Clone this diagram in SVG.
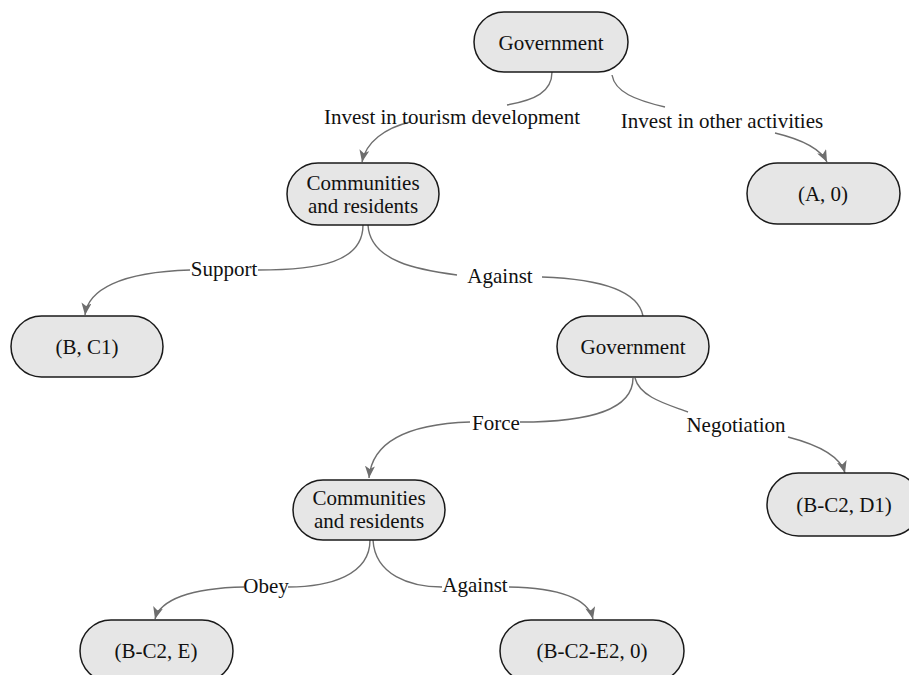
<svg xmlns="http://www.w3.org/2000/svg" width="909" height="675" viewBox="0 0 909 675">
<defs>
<style>
.node rect{fill:#e6e6e6;stroke:#1a1a1a;stroke-width:1.5}
text{font-family:'Liberation Serif','Times New Roman','DejaVu Serif',serif;font-size:21px;fill:#111;text-anchor:middle}
.conn path{fill:none;stroke:#6e6e6e;stroke-width:1.4}
</style>
<marker id="arr" viewBox="0 0 12 10" refX="12" refY="5" markerWidth="12" markerHeight="10" markerUnits="userSpaceOnUse" orient="auto">
<path d="M0,0 L12,5 L0,10 L3,5 z" fill="#6e6e6e"/>
</marker>
</defs>
<rect width="909" height="675" fill="#ffffff"/>
<g id="connectors" class="conn">
<path d="M552,72 C552,92 535,100 507,105"/>
<path d="M410,122 C385,128 366,142 362,162" marker-end="url(#arr)"/>
<path d="M612,75 C615,92 635,100 665,107"/>
<path d="M775,133 C800,139 820,148 827,162" marker-end="url(#arr)"/>
<path d="M363,225 C363,262 320,270 258,270"/>
<path d="M190,270 C120,272 88,290 85,315" marker-end="url(#arr)"/>
<path d="M368,225 C370,262 420,270 457,275"/>
<path d="M542,277 C600,279 638,290 643,316"/>
<path d="M633,378 C633,410 590,422 520,422"/>
<path d="M470,422 C410,424 372,440 369,478" marker-end="url(#arr)"/>
<path d="M635,378 C640,398 670,405 688,412"/>
<path d="M788,437 C815,444 840,455 845,473" marker-end="url(#arr)"/>
<path d="M370,540 C370,575 330,587 288,587"/>
<path d="M244,587 C190,588 160,600 155,619" marker-end="url(#arr)"/>
<path d="M373,540 C375,575 410,587 442,587"/>
<path d="M509,587 C560,588 588,598 593,619" marker-end="url(#arr)"/>
</g>
<g id="labels" font-family="Liberation Serif, serif">
<text x="452" y="124">Invest in tourism development</text>
<text x="722" y="128">Invest in other activities</text>
<text x="224" y="276">Support</text>
<text x="500" y="283">Against</text>
<text x="496" y="430">Force</text>
<text x="736" y="432">Negotiation</text>
<text x="266" y="593">Obey</text>
<text x="475" y="592">Against</text>
</g>
<g id="gov1" class="node"><rect x="474" y="12" width="154" height="60" rx="30"/><text x="551" y="50">Government</text></g>
<g id="comm1" class="node"><rect x="287" y="163" width="152" height="62" rx="31"/><text x="363" y="190">Communities</text><text x="363" y="213">and residents</text></g>
<g id="a0" class="node"><rect x="747" y="163" width="153" height="61" rx="30.5"/><text x="823" y="201">(A, 0)</text></g>
<g id="bc1" class="node"><rect x="11" y="316" width="152" height="61" rx="30.5"/><text x="87" y="354">(B, C1)</text></g>
<g id="gov2" class="node"><rect x="557" y="316" width="152" height="61" rx="30.5"/><text x="633" y="354">Government</text></g>
<g id="d1" class="node"><rect x="767" y="473" width="154" height="63" rx="31.5"/><text x="844" y="512">(B-C2, D1)</text></g>
<g id="comm2" class="node"><rect x="293" y="480" width="152" height="60" rx="30"/><text x="369" y="505">Communities</text><text x="369" y="528">and residents</text></g>
<g id="e" class="node"><rect x="80" y="620" width="153" height="62" rx="31"/><text x="156" y="658">(B-C2, E)</text></g>
<g id="e2" class="node"><rect x="500" y="620" width="184" height="62" rx="31"/><text x="592" y="658">(B-C2-E2, 0)</text></g>
</svg>
